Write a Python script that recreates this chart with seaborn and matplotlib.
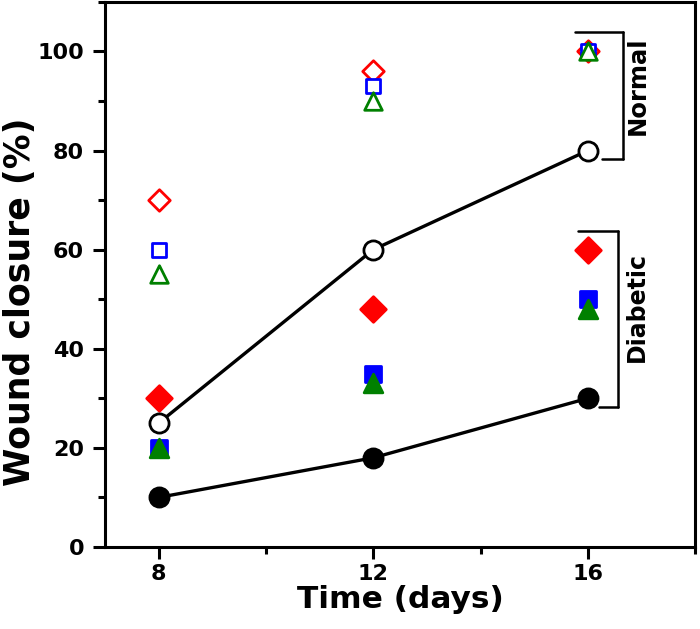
import numpy as np
import pandas as pd
import matplotlib
matplotlib.use("Agg")
import matplotlib.pyplot as plt
import seaborn as sns
from matplotlib.ticker import MultipleLocator

days = [8, 12, 16]
normal_mean = [25, 60, 80]
diabetic_mean = [10, 18, 30]
normal_diamond = [70, 96, 100]
normal_square = [60, 93, 100]
normal_triangle = [55, 90, 100]
diabetic_diamond = [30, 48, 60]
diabetic_square = [20, 35, 50]
diabetic_triangle = [20, 33, 48]

sns.set_style("ticks")
plt.rcParams['font.family'] = ['DejaVu Sans']
plt.rcParams['font.weight'] = 'bold'
plt.rcParams['text.color'] = 'black'
plt.rcParams['axes.labelcolor'] = 'black'
plt.rcParams['axes.edgecolor'] = 'black'
plt.rcParams['xtick.color'] = 'black'
plt.rcParams['ytick.color'] = 'black'

fig = plt.figure(figsize=(7.0, 6.29), dpi=100)
ax = fig.add_axes([0.15, 0.1304, 0.843, 0.8666])

lines = pd.DataFrame({
    "day": days * 2,
    "val": normal_mean + diabetic_mean,
    "grp": ["Normal"] * 3 + ["Diabetic"] * 3,
})
sns.lineplot(data=lines, x="day", y="val", hue="grp", palette={"Normal": "black", "Diabetic": "black"},
             linewidth=2.4, legend=False, ax=ax, sort=True)

def scat(vals, marker, color, filled, size, zorder):
    df = pd.DataFrame({"day": days, "val": vals})
    sns.scatterplot(data=df, x="day", y="val", marker=marker, s=size,
                    facecolor=color if filled else "white",
                    edgecolor=color, linewidth=2.0, ax=ax, zorder=zorder, legend=False)

scat(normal_mean, "o", "black", False, 190, 5)
scat(diabetic_mean, "o", "black", True, 190, 5)
scat(normal_diamond, "D", "#FF0000", False, 120, 4)
scat(normal_square, "s", "#0000FF", False, 100, 4)
scat(normal_triangle, "^", "#008000", False, 160, 4)
scat(diabetic_diamond, "D", "#FF0000", True, 170, 4)
scat(diabetic_square, "s", "#0000FF", True, 140, 4)
scat(diabetic_triangle, "^", "#008000", True, 180, 4)

ax.set_xlim(7, 18)
ax.set_ylim(0, 110)
ax.set_xticks(days)
ax.xaxis.set_minor_locator(MultipleLocator(2))
ax.set_yticks([0, 20, 40, 60, 80, 100])
ax.yaxis.set_minor_locator(MultipleLocator(10))
ax.tick_params(which="major", length=8.5, width=2.2, labelsize=16, color="black", labelcolor="black")
ax.tick_params(axis="x", which="major", pad=3.5)
ax.tick_params(axis="y", which="major", pad=6.5)
ax.tick_params(which="minor", length=5, width=2.2, color="black")
for lab in ax.get_xticklabels() + ax.get_yticklabels():
    lab.set_fontweight("bold")
for sp in ax.spines.values():
    sp.set_visible(True)
    sp.set_linewidth(2.2)
    sp.set_color("black")

ax.set_xlabel("Time (days)", fontsize=22.5, fontweight="bold", color="black")
ax.set_ylabel("Wound closure (%)", fontsize=25, fontweight="bold", color="black")
ax.xaxis.set_label_coords(0.5, -0.07)
ax.yaxis.set_label_coords(-0.115, 0.45)

# brackets
kw = dict(color="black", linewidth=1.8, clip_on=False)
ax.plot([15.77, 16.65], [104, 104], **kw)
ax.plot([16.65, 16.65], [104, 78.3], **kw)
ax.plot([16.27, 16.65], [78.3, 78.3], **kw)
ax.text(16.94, 93, "Normal", rotation=90, ha="center", va="center", fontsize=17.5, fontweight="bold", color="black")

ax.plot([15.81, 16.57], [63.8, 63.8], **kw)
ax.plot([16.57, 16.57], [63.8, 28.3], **kw)
ax.plot([16.2, 16.57], [28.3, 28.3], **kw)
ax.text(16.91, 48.4, "Diabetic", rotation=90, ha="center", va="center", fontsize=17, fontweight="bold", color="black")

fig.savefig("out.png", dpi=100)
